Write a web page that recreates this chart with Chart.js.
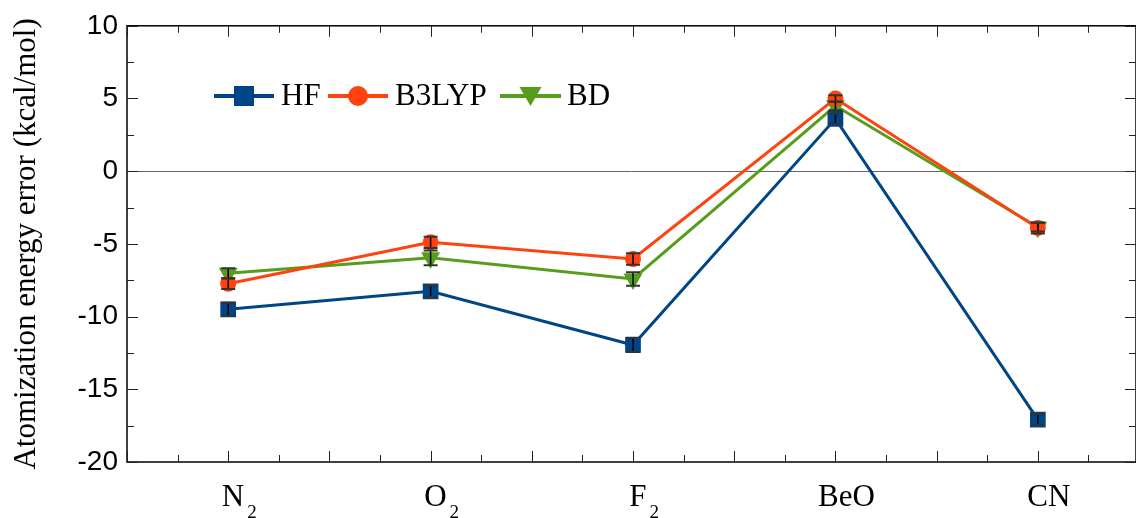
<!DOCTYPE html>
<html>
<head>
<meta charset="utf-8">
<script src="https://cdn.jsdelivr.net/npm/chart.js@4.4.1/dist/chart.umd.min.js"></script>
<style>
  html, body { margin: 0; padding: 0; background: #fff; overflow: hidden; }
  #c { display: block; width: 1136px; height: 518px; }
</style>
</head>
<body>
<canvas id="c" width="1136" height="518"></canvas>
<script>
// ---- data ----
const categories = ['N', 'O', 'F', 'BeO', 'CN'];
const categorySubs = ['2', '2', '2', '', ''];
const categoryX = [1, 2, 3, 4, 5];
const hfValues = [-9.5, -8.26, -11.95, 3.6, -17.09];
const hfErrors = [0.45, 0.4, 0.49, 0.34, 0.37];
const b3lypValues = [-7.74, -4.89, -6.04, 5.0, -3.9];
const b3lypErrors = [0.36, 0.39, 0.39, 0.23, 0.38];
const bdValues = [-7.02, -5.96, -7.41, 4.5, -3.85];
const bdErrors = [0.35, 0.5, 0.46, 0.3, 0.3];
const seriesNames = ['HF', 'B3LYP', 'BD'];
const yTicks = [10, 5, 0, -5, -10, -15, -20];
const yTitle = 'Atomization energy error (kcal/mol)';

const serif = '"Liberation Serif", "DejaVu Serif", serif';
const sans = '"Liberation Sans", Arial, sans-serif';

function pts(vals) { return vals.map((v, i) => ({ x: categoryX[i], y: v })); }

const errorSets = [hfErrors, b3lypErrors, bdErrors];

const framePlugin = {
  id: 'frame',
  beforeDatasetsDraw(chart) {
    const { ctx, chartArea: a, scales: { x, y } } = chart;
    ctx.save();
    ctx.strokeStyle = '#000';
    ctx.lineWidth = 1.5;
    ctx.strokeRect(a.left, a.top, a.right - a.left, a.bottom - a.top);
    ctx.lineWidth = 1;
    ctx.strokeStyle = '#222';
    for (let v = 0.5; v <= x.max + 1e-6; v += 0.25) {
      const major = Math.abs(v * 2 - Math.round(v * 2)) < 1e-6;
      const len = major ? 11 : 7;
      const px = Math.round(x.getPixelForValue(v)) + 0.5;
      ctx.beginPath();
      ctx.moveTo(px, a.bottom); ctx.lineTo(px, a.bottom - len);
      ctx.moveTo(px, a.top); ctx.lineTo(px, a.top + len);
      ctx.stroke();
    }
    for (let v = y.min; v <= y.max + 1e-6; v += 2.5) {
      const major = Math.abs(v / 5 - Math.round(v / 5)) < 1e-6;
      const len = major ? 11 : 7;
      const py = Math.round(y.getPixelForValue(v)) + 0.5;
      ctx.beginPath();
      ctx.moveTo(a.left, py); ctx.lineTo(a.left + len, py);
      ctx.moveTo(a.right, py); ctx.lineTo(a.right - len, py);
      ctx.stroke();
    }
    ctx.restore();
  },
  afterDatasetsDraw(chart) {
    const { ctx, scales: { x, y } } = chart;
    ctx.save();
    chart.data.datasets.forEach((ds, di) => {
      const errs = errorSets[di];
      ds.data.forEach((p, i) => {
        const px = x.getPixelForValue(p.x);
        const y1 = y.getPixelForValue(p.y + errs[i]);
        const y2 = y.getPixelForValue(p.y - errs[i]);
        ctx.strokeStyle = '#000';
        ctx.lineWidth = 1.5;
        ctx.beginPath(); ctx.moveTo(px, y1); ctx.lineTo(px, y2); ctx.stroke();
        ctx.strokeStyle = '#333';
        ctx.lineWidth = 2;
        ctx.beginPath();
        ctx.moveTo(px - 7, y1); ctx.lineTo(px + 7, y1);
        ctx.moveTo(px - 7, y2); ctx.lineTo(px + 7, y2);
        ctx.stroke();
      });
    });
    const legendY = 96;
    const items = [
      { x0: 214, x1: 274, tx: 281 },
      { x0: 328, x1: 388, tx: 395 },
      { x0: 500, x1: 561, tx: 567 }
    ];
    chart.data.datasets.forEach((ds, di) => {
      const it = items[di];
      ctx.strokeStyle = ds.borderColor;
      ctx.lineWidth = 4;
      ctx.beginPath(); ctx.moveTo(it.x0, legendY); ctx.lineTo(it.x1, legendY); ctx.stroke();
      const cx = (it.x0 + it.x1) / 2;
      ctx.fillStyle = ds.borderColor;
      ctx.beginPath();
      if (di === 0) { ctx.rect(cx - 10, legendY - 10, 20, 20); }
      else if (di === 1) { ctx.arc(cx, legendY, 10, 0, Math.PI * 2); }
      else { ctx.moveTo(cx - 11, legendY - 9); ctx.lineTo(cx + 11, legendY - 9); ctx.lineTo(cx, legendY + 10); ctx.closePath(); }
      ctx.fill();
      ctx.fillStyle = '#000';
      ctx.font = '31px ' + serif;
      ctx.textBaseline = 'middle';
      ctx.textAlign = 'left';
      ctx.fillText(ds.label, it.tx, legendY + 1);
    });
    ctx.restore();
  },
  afterDraw(chart) {
    const { ctx, chartArea: a, scales: { x } } = chart;
    ctx.save();
    ctx.fillStyle = '#000';
    ctx.textBaseline = 'alphabetic';
    categories.forEach((c, i) => {
      const px = x.getPixelForValue(categoryX[i]) + 11;
      ctx.font = '31px ' + serif;
      const w1 = ctx.measureText(c).width;
      let w2 = 0;
      if (categorySubs[i]) { ctx.font = '19px ' + serif; w2 = ctx.measureText(categorySubs[i]).width + 3; }
      const start = px - (w1 + w2) / 2;
      ctx.font = '31px ' + serif;
      ctx.textAlign = 'left';
      ctx.fillText(c, start, a.bottom + 43.5);
      if (categorySubs[i]) {
        ctx.font = '19px ' + serif;
        ctx.fillText(categorySubs[i], start + w1 + 3, a.bottom + 55.5);
      }
    });
    ctx.restore();
  }
};

new Chart(document.getElementById('c'), {
  type: 'line',
  data: {
    datasets: [
      { label: seriesNames[0], data: pts(hfValues), borderColor: '#004586', backgroundColor: '#004586',
        borderWidth: 3, pointStyle: 'rect', pointRadius: 9, pointHoverRadius: 9, tension: 0 },
      { label: seriesNames[1], data: pts(b3lypValues), borderColor: '#ff420e', backgroundColor: '#ff420e',
        borderWidth: 3, pointStyle: 'circle', pointRadius: 6.5, pointHoverRadius: 6.5, tension: 0 },
      { label: seriesNames[2], data: pts(bdValues), borderColor: '#579d1c', backgroundColor: '#579d1c',
        borderWidth: 3, pointStyle: 'triangle', rotation: 180, pointRadius: 8, pointHoverRadius: 8, tension: 0 }
    ]
  },
  options: {
    responsive: false,
    maintainAspectRatio: false,
    animation: false,
    events: [],
    layout: { autoPadding: false, padding: { left: 0, right: -8, top: 23, bottom: 56 } },
    plugins: { legend: { display: false }, tooltip: { enabled: false } },
    scales: {
      x: { type: 'linear', min: 0.5, max: 5.485, display: false },
      y: {
        min: -20, max: 10,
        afterBuildTicks: (s) => { s.ticks = yTicks.map(v => ({ value: v })); },
        afterFit: (s) => { s.width = 127; },
        border: { display: false },
        grid: { drawTicks: false, lineWidth: 1,
          color: (c) => (c.tick && c.tick.value === 0) ? '#666' : 'rgba(0,0,0,0)' },
        ticks: { color: '#000', font: { family: sans, size: 28 }, padding: 9 },
        title: { display: true, text: yTitle, color: '#000', font: { family: serif, size: 31 }, padding: { top: 8, bottom: 0 } }
      }
    }
  },
  plugins: [framePlugin]
});
</script>
</body>
</html>
